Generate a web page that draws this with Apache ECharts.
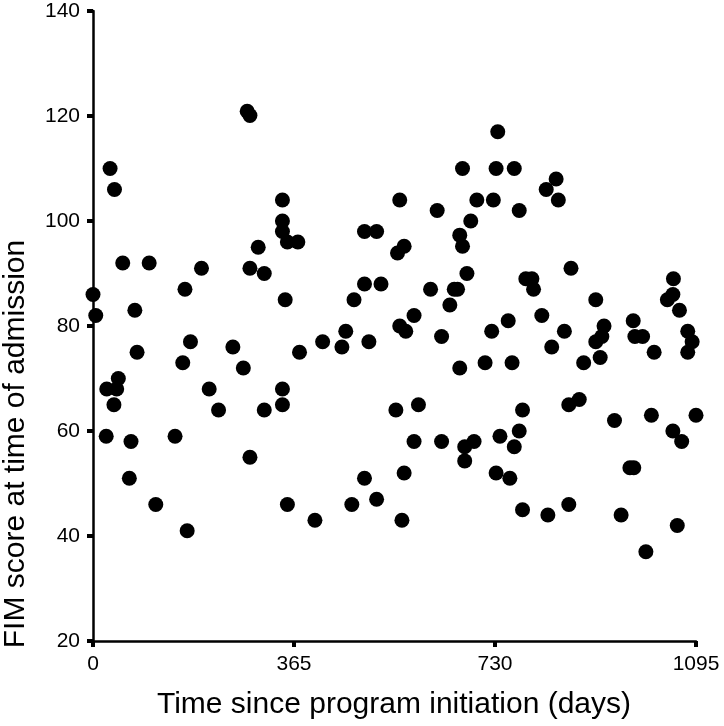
<!DOCTYPE html>
<html><head><meta charset="utf-8">
<script src="https://cdn.jsdelivr.net/npm/echarts@6/dist/echarts.min.js"></script>
<style>html,body{margin:0;padding:0;background:#fff}#c{width:724px;height:726px}</style>
</head><body><div id="c"></div>
<script>
const xTitle = 'Time since program initiation (days)';
const yTitle = 'FIM score at time of admission';
const xTicks = [0, 365, 730, 1095];
const yTicks = [20, 40, 60, 80, 100, 120, 140];
const days = [0,5,31,39,25,43,46,38,54,24,69,66,76,80,102,114,149,163,167,177,171,197,211,228,254,273,280,285,285,285,300,311,311,344,344,344,344,344,353,372,349,353,375,403,417,452,459,470,474,493,493,493,515,515,523,501,550,553,565,565,557,557,568,561,583,583,591,613,625,633,633,648,656,662,666,666,671,671,679,686,675,675,692,697,712,724,727,732,732,735,739,754,757,761,765,765,774,774,780,780,786,797,800,815,823,841,845,826,833,856,864,883,864,868,891,913,913,924,928,921,947,959,975,982,981,984,998,1004,1014,1019,1043,1053,1053,1054,1065,1069,1061,1080,1080,1088,1095];
const fim = [86,82,110,106,68,68,70,65,92,59,58,51,83,75,92,46,59,73,87,77,41,91,68,64,76,72,120.9,120.1,91,55,95,90,64,104,100,98,68,65,96,96,85,46,75,43,77,76,79,46,85,98,88,51,98,47,88,77,64,93.9,95.2,52,104,80,79,43,82,58,65,87,102,78,58,84,87,87,97.3,72,95.2,110,90,100,57,54.3,58,104,73,79,104,110,52,117,59,81,51,73,110,57,102,60,45,64,89,89,87,82,106,108,104,44,76,79,65,66,46,91,73,85,77,78,80,74,62,44,53,53,81,78,78,37,63,75,85,86,60,89,83,58,42,79,75,77,63];

const FONT = 'Liberation Sans';
const data = days.map((d, i) => [d, fim[i]]);
const labelRich = {t: {fontSize: 21, fontFamily: FONT, color: '#000', lineHeight: 22}};
const chart = echarts.init(document.getElementById('c'), null, {renderer: 'canvas'});
chart.setOption({
  backgroundColor: '#fff',
  animation: false,
  grid: {left: 93, right: 28, top: 11, bottom: 85, containLabel: false},
  xAxis: {
    type: 'value', min: xTicks[0], max: xTicks[xTicks.length - 1], interval: 365,
    axisLine: {show: true, onZero: false, lineStyle: {color: '#000', width: 2.5}},
    axisTick: {show: true, inside: false, length: 6, lineStyle: {color: '#000', width: 4}},
    splitLine: {show: false},
    axisLabel: {show: true, margin: 12, formatter: v => '{t|' + v + '}', rich: labelRich}
  },
  yAxis: {
    type: 'value', min: yTicks[0], max: yTicks[yTicks.length - 1], interval: 20,
    axisLine: {show: true, onZero: false, lineStyle: {color: '#000', width: 2.5}},
    axisTick: {show: true, inside: false, length: 6, lineStyle: {color: '#000', width: 4}},
    splitLine: {show: false},
    axisLabel: {show: true, margin: 13, formatter: v => '{t|' + v + '}', rich: labelRich}
  },
  graphic: [
    {type: 'text', x: 394, y: 705, style: {text: xTitle, font: '30px "Liberation Sans"', fill: '#000', align: 'center', verticalAlign: 'middle'}},
    {type: 'text', x: 16, y: 444, rotation: Math.PI / 2, style: {text: yTitle, font: '30px "Liberation Sans"', fill: '#000', align: 'center', verticalAlign: 'middle'}}
  ],
  series: [{
    type: 'scatter', data: data, symbol: 'circle', symbolSize: 15, clip: false,
    itemStyle: {color: '#000', opacity: 1}, z: 5
  }]
});
</script></body></html>
